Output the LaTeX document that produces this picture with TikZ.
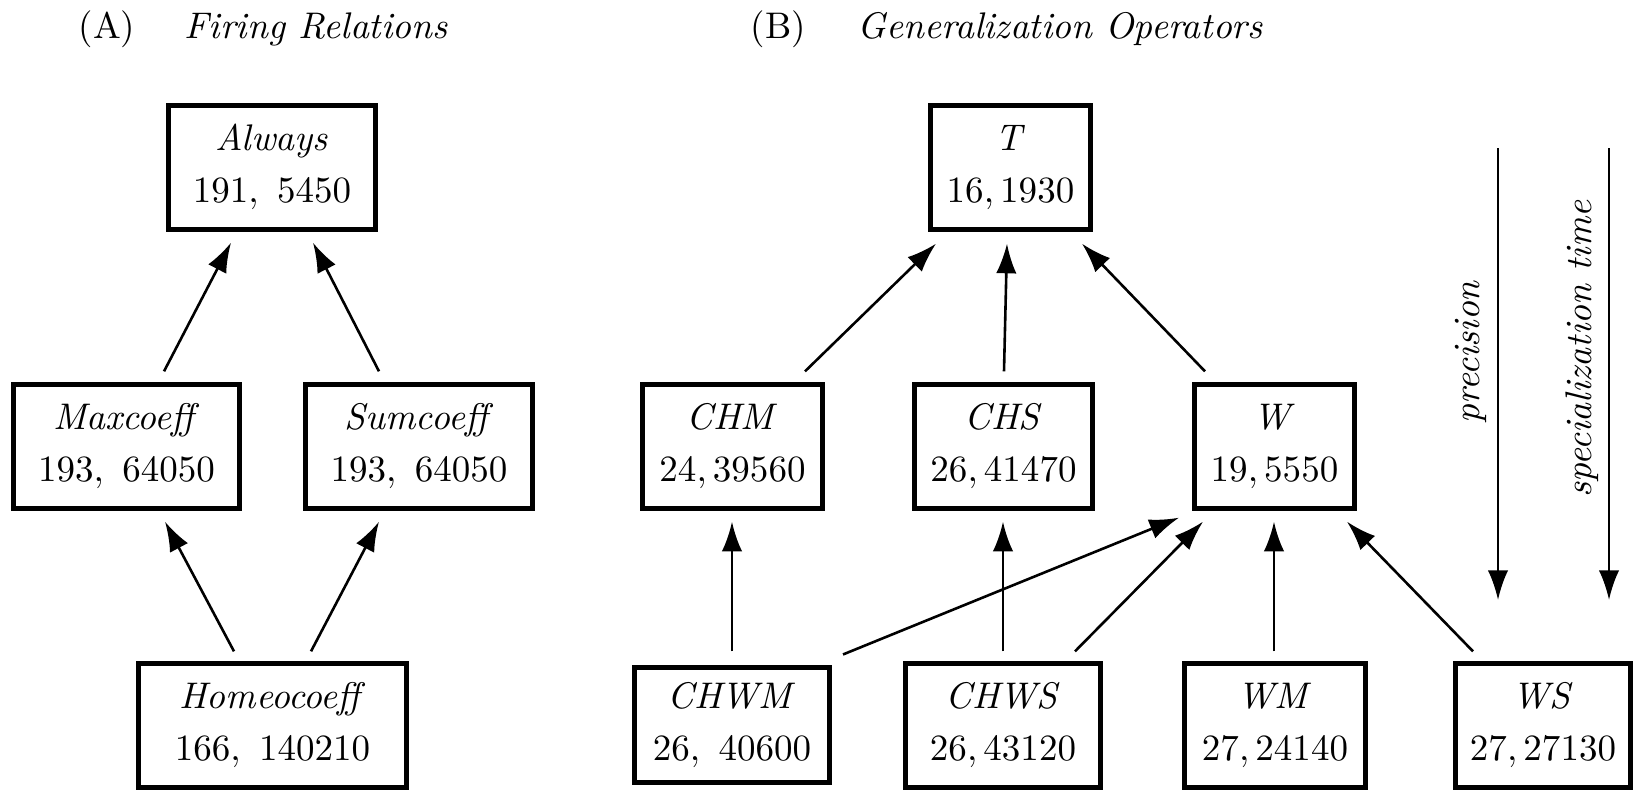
\documentclass[tikz,border=0pt]{standalone}
\usetikzlibrary{arrows.meta,calc}
\newcommand\bst{\rule[-2.2pt]{0pt}{9.3pt}}
\begin{document}
\begin{tikzpicture}[x=0.27pt,y=-0.27pt,
  box/.style={draw,line width=1.15pt,inner sep=0pt,minimum height=33.5pt,align=center,font=\fontsize{10}{14}\selectfont},
  arr/.style={-{Latex[length=8pt,width=5.5pt]},line width=0.7pt},
  ttl/.style={anchor=base west,inner sep=0pt,font=\fontsize{10}{12}\selectfont},
  side/.style={rotate=90,inner sep=0pt,font=\fontsize{10}{12}\selectfont}]
\useasboundingbox (0,0) rectangle (1634,789);

% titles
\node[ttl] (tA) at (78,38) {(A)};
\node[ttl] (tAn) at (184,38) {\textit{Firing Relations}};
\node[ttl] (tB) at (750,38) {(B)};
\node[ttl] (tBn) at (857,38) {\textit{Generalization Operators}};

% (A) firing relations
\node[box,minimum width=55.9pt] (always) at (272,167.5) {\bst\textit{Always}\\\bst$191,\ 5450$};
\node[box,minimum width=61pt] (maxcoeff) at (126.5,446.5) {\bst\textit{Maxcoeff}\\\bst$193,\ 64050$};
\node[box,minimum width=61.3pt] (sumcoeff) at (419,446.5) {\bst\textit{Sumcoeff}\\\bst$193,\ 64050$};
\node[box,minimum width=72.3pt] (homeo) at (272.5,725.5) {\bst\textit{Homeocoeff}\\\bst$166,\ 140210$};

\draw[arr] ($(maxcoeff.north)+(37.5,-11)$) -- ($(always.south)+(-41,11)$);
\draw[arr] ($(sumcoeff.north)+(-40,-11)$) -- ($(always.south)+(41,11)$);
\draw[arr] ($(homeo.north)+(-38.5,-10)$) -- ($(maxcoeff.south)+(38.5,11)$);
\draw[arr] ($(homeo.north)+(38.5,-10)$) -- ($(sumcoeff.south)+(-40,11)$);

% (B) generalization operators
\node[box,minimum width=43.2pt] (T) at (1010.5,167.5) {\bst\textit{T}\\\bst$16,1930$};
\node[box,minimum width=48.6pt] (chm) at (732.5,446.5) {\bst\textit{CHM}\\\bst$24,39560$};
\node[box,minimum width=48.1pt] (chs) at (1003.5,446.5) {\bst\textit{CHS}\\\bst$26,41470$};
\node[box,minimum width=43.2pt] (w) at (1274.5,446.5) {\bst\textit{W}\\\bst$19,5550$};
\node[box,minimum width=52.6pt,minimum height=31pt] (chwm) at (732,725) {\bst\textit{CHWM}\\\bst$26,\ 40600$};
\node[box,minimum width=52.6pt] (chws) at (1003,725.5) {\bst\textit{CHWS}\\\bst$26,43120$};
\node[box,minimum width=48.9pt] (wm) at (1275,725.5) {\bst\textit{WM}\\\bst$27,24140$};
\node[box,minimum width=47.3pt] (ws) at (1543,725.5) {\bst\textit{WS}\\\bst$27,27130$};

\draw[arr] ($(chm.north)+(72.5,-11)$) -- ($(T.south)+(-74.5,12)$);
\draw[arr] ($(chs.north)+(0.5,-11)$) -- ($(T.south)+(-3.5,12)$);
\draw[arr] ($(w.north)+(-69.5,-11)$) -- ($(T.south)+(71.5,12)$);
\draw[arr] ($(chwm.north)+(0,-14)$) -- ($(chm.south)+(-0.5,11)$);
\draw[arr] ($(chws.north)+(0,-10)$) -- ($(chs.south)+(-0.5,11)$);
\draw[arr] ($(chwm.north)+(111,-11)$) -- ($(w.south)+(-95.5,7)$);
\draw[arr] ($(chws.north)+(72,-10)$) -- ($(w.south)+(-71.5,11)$);
\draw[arr] ($(wm.north)+(-1,-10)$) -- ($(w.south)+(-0.5,11)$);
\draw[arr] ($(ws.north)+(-70,-10)$) -- ($(w.south)+(72.5,11)$);

% side arrows
\coordinate (p1) at (1498,148);
\coordinate (p2) at (1498,600);
\coordinate (s1) at (1609,148);
\coordinate (s2) at (1609,600);
\draw[arr] (p1) -- (p2);
\draw[arr] (s1) -- (s2);
\node[side] (prec) at (1471,352) {\textit{precision}};
\node[side] (spec) at (1582,349) {\textit{specialization time}};
\end{tikzpicture}
\end{document}
